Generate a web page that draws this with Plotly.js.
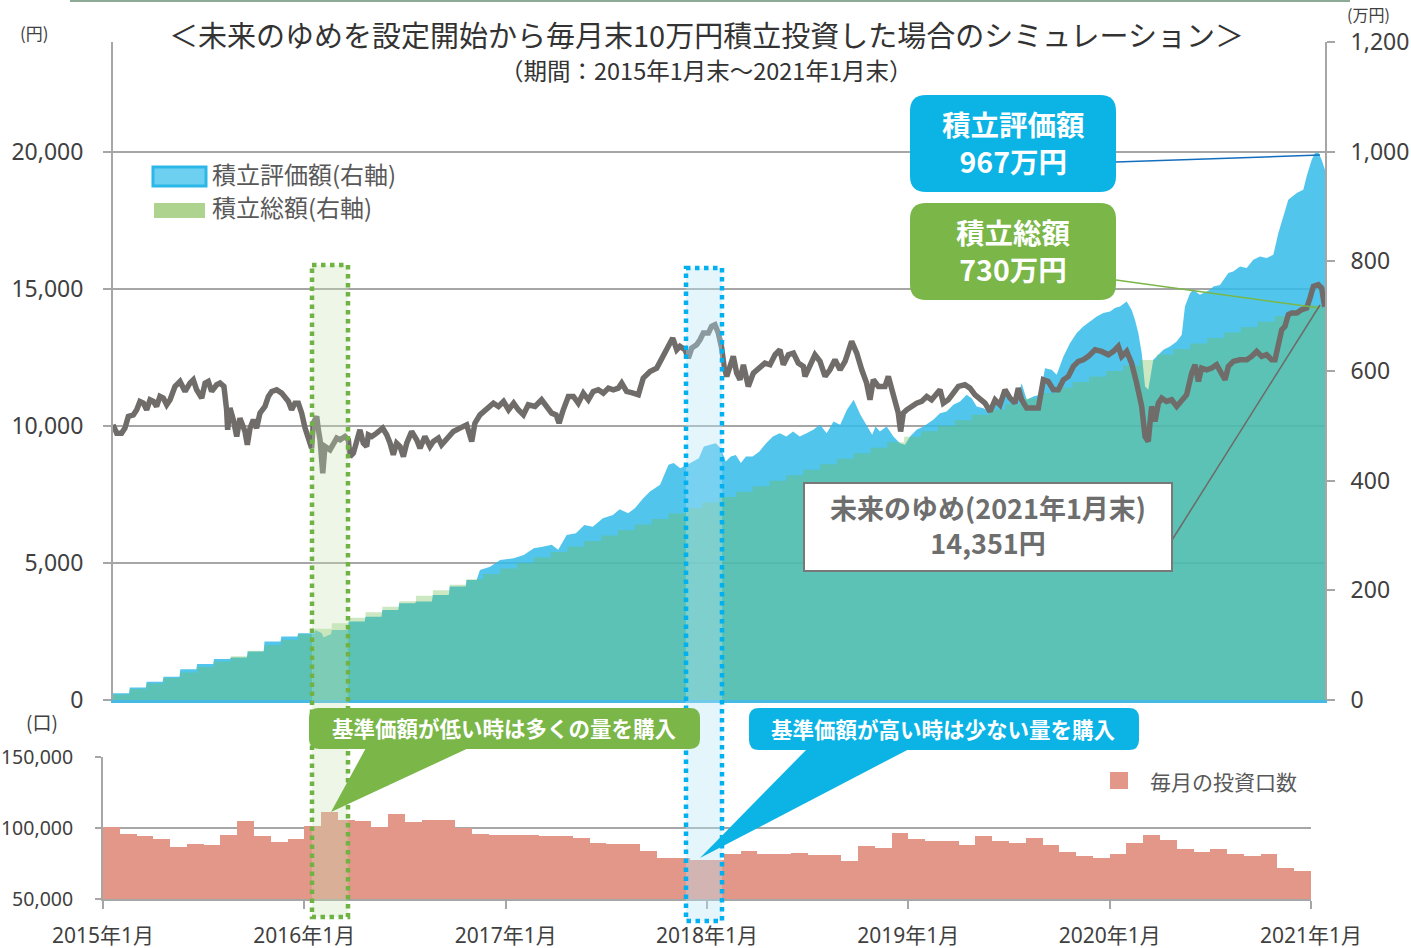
<!DOCTYPE html>
<html><head><meta charset="utf-8">
<script src="https://cdn.plot.ly/plotly-3.0.1.min.js"></script>
<style>html,body{margin:0;padding:0;background:#fff}#chart{width:1411px;height:948px}</style>
</head><body><div id="chart"></div>
<script>
// ---- DATA ----
// 基準価額 (円): [months since 2015年1月末, value]
const navPoints = [
[0,10038],[0.22,9733],[0.51,9733],[0.71,9916],[0.91,10342],[1.21,10402],[1.41,10585],[1.6,10889],[1.8,10828],[2,10585],
[2.2,10950],[2.4,10889],[2.59,10707],[2.79,11072],[2.99,11011],[3.19,10767],[3.39,10950],[3.68,11437],[3.98,11619],[4.28,11254],
[4.57,11558],[4.77,11680],[4.97,11315],[5.27,11011],[5.47,11558],[5.66,11619],[5.86,11254],[6.16,11498],[6.36,11558],[6.59,11437],
[6.75,10585],[6.81,9855],[6.95,10646],[7.15,10220],[7.35,9612],[7.54,10281],[7.84,9794],[7.98,9307],[8.14,9916],[8.34,10220],
[8.53,9916],[8.73,10463],[9.03,10707],[9.23,11072],[9.43,11254],[9.72,11315],[10.02,11193],[10.22,11011],[10.42,10889],[10.61,10585],
[10.81,10828],[11.01,10828],[11.21,10463],[11.41,9916],[11.6,9612],[11.8,9186],[11.9,10098],[12.1,10342],[12.2,9855],[12.3,9490],
[12.46,8273],[12.59,9247],[12.89,9125],[13.09,9368],[13.29,9551],[13.49,9490],[13.78,9612],[13.98,9490],[14.08,8881],[14.28,9003],
[14.48,9368],[14.67,9855],[14.87,9368],[15.07,9247],[15.17,9672],[15.37,9612],[15.66,9733],[16.02,9916],[16.26,9672],[16.46,9368],
[16.65,8942],[16.85,9368],[17.05,9247],[17.25,8881],[17.45,9368],[17.74,9794],[18.04,9490],[18.24,9186],[18.53,9612],[18.83,9247],
[19.03,9429],[19.33,9551],[19.52,9307],[19.82,9551],[20.22,9794],[20.61,9916],[21.01,10038],[21.31,9429],[21.5,10098],
[21.8,10402],[22.2,10585],[22.6,10828],[22.9,10707],[23.2,10889],[23.5,10585],[23.8,10828],[24.08,10585],[24.38,10402],[24.67,10767],
[25.07,10707],[25.46,10950],[25.76,10707],[26.06,10463],[26.32,10402],[26.5,10098],[26.75,10585],[27.05,11072],[27.35,11072],[27.64,10828],
[27.94,11193],[28.24,10950],[28.53,11254],[28.83,11315],[29.13,11193],[29.43,11376],[29.72,11315],[30.02,11376],[30.22,11558],[30.51,11254],
[30.91,11193],[31.21,11132],[31.5,11741],[31.9,11984],[32.3,12106],[32.69,12532],[32.99,12836],[33.25,13201],[33.49,12775],[33.68,12897],
[33.98,12775],[34.18,12471],[34.38,12836],[34.67,12958],[34.87,13140],[35.07,13383],[35.37,13383],[35.56,13627],[35.76,13687],[35.96,13383],
[36.16,12836],[36.3,12167],[36.46,11802],[36.65,12167],[36.85,12532],[37.05,11923],[37.25,11680],[37.45,12228],[37.74,11437],[38.04,11923],
[38.44,12167],[38.73,12289],[39.03,12228],[39.33,12593],[39.62,12775],[39.82,12228],[40.12,12593],[40.42,12654],[40.71,12289],[41.01,12167],
[41.11,11802],[41.41,12167],[41.7,12593],[42,12350],[42.3,11802],[42.59,12045],[42.89,12410],[43.19,12045],[43.49,12350],[43.88,13079],
[44.18,12654],[44.48,12045],[44.77,11558],[44.97,10950],[45.17,11680],[45.47,11437],
[45.86,11437],[46.06,11802],[46.26,11315],[46.45,10828],[46.65,10463],[46.79,9794],[46.95,10463],[47.15,10585],[47.45,10707],[47.74,10828],
[48.04,10889],[48.34,11072],[48.63,10950],[48.93,11193],[49.13,11315],[49.33,10828],[49.62,10950],[49.92,11193],[50.22,11437],[50.61,11497],
[50.91,11376],[51.21,11132],[51.5,10950],[51.8,10828],[52.1,10524],[52.4,10950],[52.69,10767],[52.99,11315],[53.29,11011],[53.58,10828],
[53.78,11376],[53.98,10950],[54.28,10646],[54.67,10646],[54.97,10646],[55.27,11680],[55.56,11619],[55.86,11315],[56.16,11315],[56.46,11680],
[56.75,11802],[57.05,12167],[57.35,12350],[57.64,12410],[57.94,12532],[58.34,12775],[58.73,12714],[59.13,12593],[59.43,12714],[59.72,12897],
[59.92,12532],[60.22,12714],[60.51,12289],[60.81,11558],[61.11,10707],[61.31,9612],[61.5,9429],[61.7,10707],[61.9,10159],[62.1,10828],
[62.3,11011],[62.59,10889],[62.89,10950],[63.19,10707],[63.49,10950],[63.78,11132],[64.08,11923],[64.28,12228],[64.48,11619],[64.67,12106],
[64.97,12045],[65.27,12106],[65.56,12228],[65.86,11862],[66.06,11680],[66.26,12167],[66.55,12350],[66.95,12410],[67.35,12410],[67.64,12532],
[67.94,12714],[68.24,12532],[68.53,12593],[68.83,12410],[69.03,12410],[69.23,12958],[69.43,13505],[69.62,13627],[69.82,14052],[70.02,14113],
[70.32,14113],[70.61,14235],[70.91,14296],[71.11,14661],[71.31,15087],[71.6,15148],[71.8,15026],[71.96,14417],[72,14351]
];
// 積立評価額 (万円): [months, value]
const valuationPoints = [
[0,12.2],[0.95,12.2],[1,22.6],[1.95,22.6],[2,33.5],[2.95,33.5],[3,42.6],[3.95,42.6],[4,56],[4.95,56],
[5,65.7],[5.95,65.7],[6,74.9],[6.95,74.9],[7,77.3],[7.95,77.3],[8,88.3],[8.95,88.3],[9,106.5],[9.95,106.5],
[10,115.6],[10.95,115.6],[11,121.7],[11.95,121.7],[12,127.8],[12.4,122],[12.5,114.4],[12.95,120],[13,127.8],[13.95,127.8],
[14,143],[14.95,143],[15,152],[15.95,152],[16,164.3],[16.95,164.3],[17,176.4],[17.95,176.4],[18,179.5],[18.95,179.5],
[19,191.7],[19.95,191.7],[20,206.9],[20.95,206.9],[21,219],[21.6,219],
[21.8,237],[22.4,243],[23,255.5],[23.8,258.6],[24.4,264.6],[25,276.8],[25.6,280],[26.06,283],[26.45,273.8],[26.95,301],
[27.5,304],[28,319],[28.5,316],[29.1,331.6],[29.7,337.6],[30.1,348],[30.6,340.7],[31,349.8],[31.5,368],[31.9,380.2],
[32.5,392.4],[33,429],[33.3,432],[33.7,422.8],[34.3,432],[34.8,441],[35.1,462.4],[35.5,465.4],[35.8,468.4],[36.1,459.3],
[36.4,435],[36.7,444],[37,447],[37.3,432],[37.6,444],[38,444],[38.4,453],[38.8,468.4],[39.2,480.6],[39.6,486.7],
[40,480.6],[40.4,489.7],[40.8,480.6],[41.2,486.7],[41.6,492.8],[42,502],[42.4,486.7],[42.8,508],[43.2,502],[43.6,529.3],
[44,547.5],[44.4,520],[44.8,499],[45.1,483.6],[45.3,499],
[45.56,489.6],[45.96,498.7],[46.36,480.5],[46.75,468.4],[47.05,465.3],[47.35,480.5],[47.74,492.7],[48.14,498.7],[48.73,510.9],[49.13,523],
[49.52,526],[49.92,538.3],[50.32,544.4],[50.71,556.5],[51.01,550.5],[51.31,535.2],[51.7,532.2],[52.1,526.1],[52.4,547.4],[52.69,541.3],
[53.09,565.7],[53.39,550.5],[53.68,541.3],[53.98,577.8],[54.28,547.4],[54.67,553.5],[55.07,556.5],[55.37,605.2],[55.76,602.2],[56.06,593],
[56.46,626.5],[56.85,650.8],[57.25,669.1],[57.64,681.2],[58.04,690.4],[58.44,699.5],[58.83,705.6],[59.23,708.6],[59.52,714.7],[59.82,717.7],
[60.22,726.9],[60.51,711.7],[60.71,693.4],[60.91,669.1],[61.11,632.6],[61.31,571.7],[61.5,565.7],[61.8,620.4],[62.1,629.5],[62.4,638.7],
[62.79,644.8],[63.19,653.9],[63.49,666],[63.68,717.8],[63.98,742],[64.18,748],[64.57,739],[65.17,748],[65.37,754],[65.76,757],
[66.26,778.6],[66.55,781.6],[66.95,790.8],[67.35,787.7],[67.74,803],[68.14,809],[68.53,806],[68.93,812],[69.23,851.6],[69.52,882],
[69.82,912.4],[70.32,924.6],[70.71,930.7],[70.91,955],[71.21,985.4],[71.41,997.6],[71.6,998.8],[71.8,985.4],[72,967]
];
// 積立総額 (万円) at each month-end
const totalMonth = [0,1,2,3,4,5,6,7,8,9,10,11,12,13,14,15,16,17,18,19,20,21,22,23,24,25,26,27,28,29,30,31,32,33,34,35,36,37,38,39,40,41,42,43,44,45,46,47,48,49,50,51,52,53,54,55,56,57,58,59,60,61,62,63,64,65,66,67,68,69,70,71,72];
const totalValue = [10,20,30,40,50,60,70,80,90,100,110,120,130,140,150,160,170,180,190,200,210,220,230,240,250,260,270,280,290,300,310,320,330,340,350,360,370,380,390,400,410,420,430,440,450,460,470,480,490,500,510,520,530,540,550,560,570,580,590,600,610,620,630,640,650,660,670,680,690,700,710,720,730];
// 毎月の投資口数
const unitsMonth = [1,2,3,4,5,6,7,8,9,10,11,12,13,14,15,16,17,18,19,20,21,22,23,24,25,26,27,28,29,30,31,32,33,34,35,36,37,38,39,40,41,42,43,44,45,46,47,48,49,50,51,52,53,54,55,56,57,58,59,60,61,62,63,64,65,66,67,68,69,70,71,72];
const unitsValue = [100500,96000,94200,92100,86500,88500,87900,94900,104700,94200,90400,92500,
101200,111000,105800,105100,100700,109800,104000,105600,105400,99800,95600,94900,
95100,95100,94400,94400,92800,89700,89000,89000,83900,78700,78700,77300,
77800,81500,83900,82000,81800,82300,81300,81300,77100,87200,86200,96700,
92500,91100,90700,87900,94600,90900,89300,92800,87900,83400,80200,79200,
81600,89300,94900,91600,85100,83400,85500,81600,80600,81600,71700,69600];
const yearTicks = [0,12,24,36,48,60,72];
const yearLabels = ['2015年1月','2016年1月','2017年1月','2018年1月','2019年1月','2020年1月','2021年1月'];
const leftTicks = [0,5000,10000,15000,20000];
const rightTicks = [0,200,400,600,800,1000,1200];
const unitTicks = [50000,100000,150000];
const fmt = v => v.toLocaleString('en-US');

// ---- LAYOUT HELPERS ----
const W=1411,H=948;
const px=x=>x/W, py=y=>1-y/H;
const JP='"Noto Sans CJK JP", sans-serif';
const NUM='"Noto Sans", "Noto Sans CJK JP", sans-serif';
const GRID='#a6a6a6';
function rr(x0,y0,x1,y1,r){
  const X=v=>px(v).toFixed(5), Y=v=>py(v).toFixed(5);
  return `M${X(x0+r)},${Y(y0)} L${X(x1-r)},${Y(y0)} Q${X(x1)},${Y(y0)} ${X(x1)},${Y(y0+r)} L${X(x1)},${Y(y1-r)} Q${X(x1)},${Y(y1)} ${X(x1-r)},${Y(y1)} L${X(x0+r)},${Y(y1)} Q${X(x0)},${Y(y1)} ${X(x0)},${Y(y1-r)} L${X(x0)},${Y(y0+r)} Q${X(x0)},${Y(y0)} ${X(x0+r)},${Y(y0)} Z`;
}
function tri(a,b,c){
  const P=p=>`${px(p[0]).toFixed(5)},${py(p[1]).toFixed(5)}`;
  return `M${P(a)} L${P(b)} L${P(c)} Z`;
}
function pshape(type,x0,y0,x1,y1,o){return Object.assign({type,xref:'paper',yref:'paper',x0:px(x0),x1:px(x1),y0:py(y0),y1:py(y1),layer:'above'},o);}
function pathShape(path,fill,line){return {type:'path',xref:'paper',yref:'paper',path,fillcolor:fill,line:line||{width:0},layer:'above'};}
function txt(x,y,text,size,color,o){return Object.assign({xref:'paper',yref:'paper',x:px(x),y:py(y),text,showarrow:false,font:{family:JP,size,color},xanchor:'center',yanchor:'middle'},o);}

const BLUE='rgb(12,180,230)', GREEN='rgb(122,182,72)', SALMON='rgb(226,151,137)';

const traces = [
  {type:'scatter',mode:'lines',x:valuationPoints.map(p=>p[0]),y:valuationPoints.map(p=>p[1]),xaxis:'x',yaxis:'y',
   fill:'tozeroy',fillcolor:'rgba(54,188,233,0.86)',line:{width:0,color:'rgba(54,188,233,0.86)'},name:'積立評価額(右軸)',showlegend:false,hoverinfo:'skip'},
  {type:'scatter',mode:'lines',x:totalMonth,y:totalValue,xaxis:'x',yaxis:'y',line:{shape:'hv',width:0,color:'rgba(110,190,80,0.35)'},
   fill:'tozeroy',fillcolor:'rgba(110,190,80,0.35)',name:'積立総額(右軸)',showlegend:false,hoverinfo:'skip'},
  {type:'scatter',mode:'lines',x:navPoints.map(p=>p[0]),y:navPoints.map(p=>p[1]),xaxis:'x',yaxis:'y2',
   line:{color:'rgb(112,108,106)',width:5.5,shape:'linear'},name:'未来のゆめ',showlegend:false,hoverinfo:'skip'},
  {type:'bar',x:unitsMonth,y:unitsValue,xaxis:'x2',yaxis:'y3',width:1,offset:-1,marker:{color:SALMON,line:{width:0}},
   name:'毎月の投資口数',showlegend:false,hoverinfo:'skip'}
];

const axFont = {family:NUM,size:23,color:'#404040'};
const layout = {
  width:W,height:H,margin:{l:0,r:0,t:0,b:0},paper_bgcolor:'#fff',plot_bgcolor:'rgba(0,0,0,0)',
  showlegend:false, barmode:'overlay', bargap:0,
  xaxis:{domain:[px(113),px(1325)],range:[0,72],anchor:'y',showticklabels:false,ticks:'',showgrid:false,zeroline:false,
         showline:true,linecolor:'rgb(70,185,228)',linewidth:3,fixedrange:true},
  yaxis:{domain:[py(700),py(42)],range:[0,1200],side:'right',anchor:'x',tickvals:rightTicks,ticktext:rightTicks.map(fmt),
         ticks:'outside',ticklen:8,tickwidth:2,tickcolor:GRID,showline:true,linecolor:GRID,linewidth:2,showgrid:false,zeroline:false,
         tickfont:axFont,ticklabelstandoff:11},
  yaxis2:{overlaying:'y',side:'left',anchor:'x',range:[0,24000],tickvals:leftTicks,ticktext:leftTicks.map(fmt),
         ticks:'outside',ticklen:8,tickwidth:2,tickcolor:GRID,showline:true,linecolor:GRID,linewidth:2,showgrid:true,gridcolor:GRID,gridwidth:2,
         zeroline:false,tickfont:axFont,ticklabelstandoff:15},
  xaxis2:{domain:[px(103),px(1311)],range:[0,72],anchor:'y3',tickvals:yearTicks,ticktext:yearLabels,ticks:'outside',ticklen:8,tickwidth:2,
         tickcolor:GRID,showline:true,linecolor:GRID,linewidth:2,showgrid:false,zeroline:false,
         tickfont:{family:NUM,size:21,color:'#404040'},ticklabelstandoff:9},
  yaxis3:{domain:[py(899),py(757)],range:[50000,150000],anchor:'x2',tickvals:unitTicks,ticktext:unitTicks.map(fmt),ticks:'outside',ticklen:6,
         tickwidth:2,tickcolor:GRID,showline:true,linecolor:GRID,linewidth:2,showgrid:true,gridcolor:GRID,gridwidth:2,zeroline:false,
         tickfont:{family:NUM,size:19.5,color:'#404040'},ticklabelstandoff:18},
  shapes:[
    // top rule
    pshape('line',70,1,1350,1,{line:{color:'rgb(140,170,150)',width:2}}),
    // highlight boxes
    pshape('rect',312,265,348,917,{fillcolor:'rgba(200,228,180,0.32)',line:{color:'rgb(112,178,68)',width:4.5,dash:'dot'}}),
    pshape('rect',686,268,722,921,{fillcolor:'rgba(185,228,246,0.38)',line:{color:'rgb(0,176,240)',width:4.5,dash:'dot'}}),
    // legend symbols
    pshape('rect',153,167,206,186,{fillcolor:'rgb(110,208,240)',line:{color:'rgb(43,184,232)',width:3}}),
    pshape('rect',154,203,205,218,{fillcolor:'rgb(174,211,142)',line:{width:0}}),
    pshape('rect',1110,772,1128,789,{fillcolor:SALMON,line:{width:0}}),
    // callout connectors
    pshape('line',1116,162,1320,155,{line:{color:'rgb(20,110,190)',width:1.5}}),
    pshape('line',1116,280,1320,308,{line:{color:GREEN,width:1.5}}),
    pshape('line',1172,540,1320,305,{line:{color:'rgb(110,106,104)',width:1.5}}),
    // callout boxes
    pathShape(rr(910,95,1116,192,16),BLUE),
    pathShape(rr(910,203,1116,300,16),GREEN),
    pshape('rect',804,483,1172,571,{fillcolor:'#fff',line:{color:'rgb(120,120,120)',width:2}}),
    // speech bubbles
    pathShape(tri([367,746],[473,746],[331,812]),GREEN),
    pathShape(rr(309,708,700,749,10),GREEN),
    pathShape(tri([809,747],[913,747],[700,858]),BLUE),
    pathShape(rr(749,708,1139,750,10),BLUE)
  ],
  annotations:[
    txt(706,34,'＜未来のゆめを設定開始から毎月末10万円積立投資した場合のシミュレーション＞',29,'#333333'),
    txt(706,70,'（期間：2015年1月末～2021年1月末）',23.5,'#333333'),
    txt(34,33,'(円)',17,'#404040'),
    txt(1368,14,'(万円)',16,'#404040'),
    txt(42,721,'(口)',19,'#404040'),
    txt(210,174,'積立評価額(右軸)',24,'#595959',{xanchor:'left'}),
    txt(210,206,'積立総額(右軸)',24,'#595959',{xanchor:'left'}),
    txt(1148,781,'毎月の投資口数',21,'#595959',{xanchor:'left'}),
    txt(1013,142,'<b>積立評価額</b><br><b>967万円</b>',28.5,'#ffffff'),
    txt(1013,250,'<b>積立総額</b><br><b>730万円</b>',28.5,'#ffffff'),
    txt(988,525,'<b>未来のゆめ(2021年1月末)</b><br><b>14,351円</b>',27,'rgb(110,110,110)'),
    txt(504,727,'<b>基準価額が低い時は多くの量を購入</b>',21.5,'#ffffff'),
    txt(943,728,'<b>基準価額が高い時は少ない量を購入</b>',21.5,'#ffffff')
  ]
};
Plotly.newPlot('chart',traces,layout,{displayModeBar:false,staticPlot:true});
</script></body></html>
